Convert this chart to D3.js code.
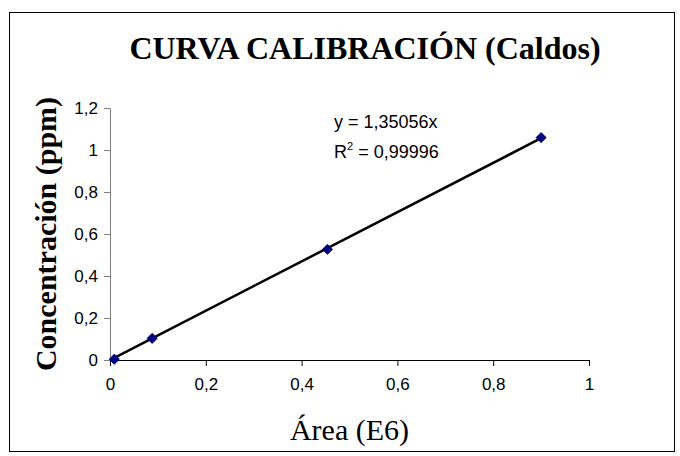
<!DOCTYPE html>
<html>
<head>
<meta charset="utf-8">
<script src="https://cdn.jsdelivr.net/npm/d3@7"></script>
<style>
  body { margin: 0; background: #fff; }
  svg { display: block; }
  .tick text { font-family: "Liberation Sans", Arial, sans-serif; font-size: 17px; fill: #000; }
</style>
</head>
<body>
<svg width="680" height="456"></svg>
<script>
// area readings (E6) and concentrations (ppm)
const area = [0.009, 0.088, 0.454, 0.900]
const conc = [0.004, 0.103, 0.527, 1.059]
const xTicks = [0, 0.2, 0.4, 0.6, 0.8, 1]
const yTicks = [0, 0.2, 0.4, 0.6, 0.8, 1, 1.2]
const eqLabel = "y = 1,35056x"
const r2Label = " = 0,99996"

const comma = d => String(d).replace(".", ",")

var svg = d3.select("svg")

svg.append("rect")
    .attr("x", 9.5).attr("y", 12.5)
    .attr("width", 665).attr("height", 439)
    .attr("fill", "#fff")
    .attr("stroke", "#000")

var x = d3.scaleLinear().domain([0, 1]).range([110, 589])
var y = d3.scaleLinear().domain([0, 1.2]).range([360, 108])

var xAxis = svg.append("g")
    .attr("transform", `translate(0,${y(0)})`)
    .call(d3.axisBottom(x).tickValues(xTicks).tickFormat(comma).tickSize(6).tickPadding(12))
xAxis.select(".domain").attr("stroke", "#000")

var yAxis = svg.append("g")
    .attr("transform", `translate(${x(0)},0)`)
    .call(d3.axisLeft(y).tickValues(yTicks).tickFormat(comma).tickSize(6).tickPadding(6))
yAxis.select(".domain").attr("stroke", "#808080")
yAxis.selectAll(".tick line").attr("stroke", "#808080")

// linear trendline forced through the origin
var k = d3.sum(area, (d, i) => d * conc[i]) / d3.sum(area, d => d * d)
var xs = d3.extent(area)
svg.append("line")
    .attr("x1", x(xs[0])).attr("y1", y(k * xs[0]))
    .attr("x2", x(xs[1])).attr("y2", y(k * xs[1]))
    .attr("stroke", "#000")
    .attr("stroke-width", 2.5)

svg.selectAll("path.pt")
    .data(area)
    .join("path")
    .attr("class", "pt")
    .attr("transform", (d, i) => `translate(${x(d)},${y(conc[i])})`)
    .attr("d", d3.symbol(d3.symbolDiamond2, 64))
    .attr("fill", "#000080")
    .attr("stroke", "#000080")

svg.append("text")
    .attr("x", 365).attr("y", 59)
    .attr("text-anchor", "middle")
    .style("font-family", "'Liberation Serif', 'Times New Roman', serif")
    .style("font-weight", "bold")
    .style("font-size", "32px")
    .text("CURVA CALIBRACIÓN (Caldos)")

svg.append("text")
    .attr("transform", `translate(56,${(y(0) + y(1.2)) / 2}) rotate(-90)`)
    .attr("text-anchor", "middle")
    .style("font-family", "'Liberation Serif', 'Times New Roman', serif")
    .style("font-weight", "bold")
    .style("font-size", "30px")
    .text("Concentración (ppm)")

svg.append("text")
    .attr("x", (x(0) + x(1)) / 2).attr("y", 440)
    .attr("text-anchor", "middle")
    .style("font-family", "'Liberation Serif', 'Times New Roman', serif")
    .style("font-size", "30px")
    .text("Área (E6)")

var eq = svg.append("text")
    .style("font-family", "'Liberation Sans', Arial, sans-serif")
    .style("font-size", "18px")
eq.append("tspan").attr("x", 334).attr("y", 128).text(eqLabel)
var r2 = eq.append("tspan").attr("x", 334).attr("y", 158).text("R")
r2.append("tspan").attr("dy", -8).style("font-size", "11px").text("2")
r2.append("tspan").attr("dy", 8).text(r2Label)
</script>
</body>
</html>
